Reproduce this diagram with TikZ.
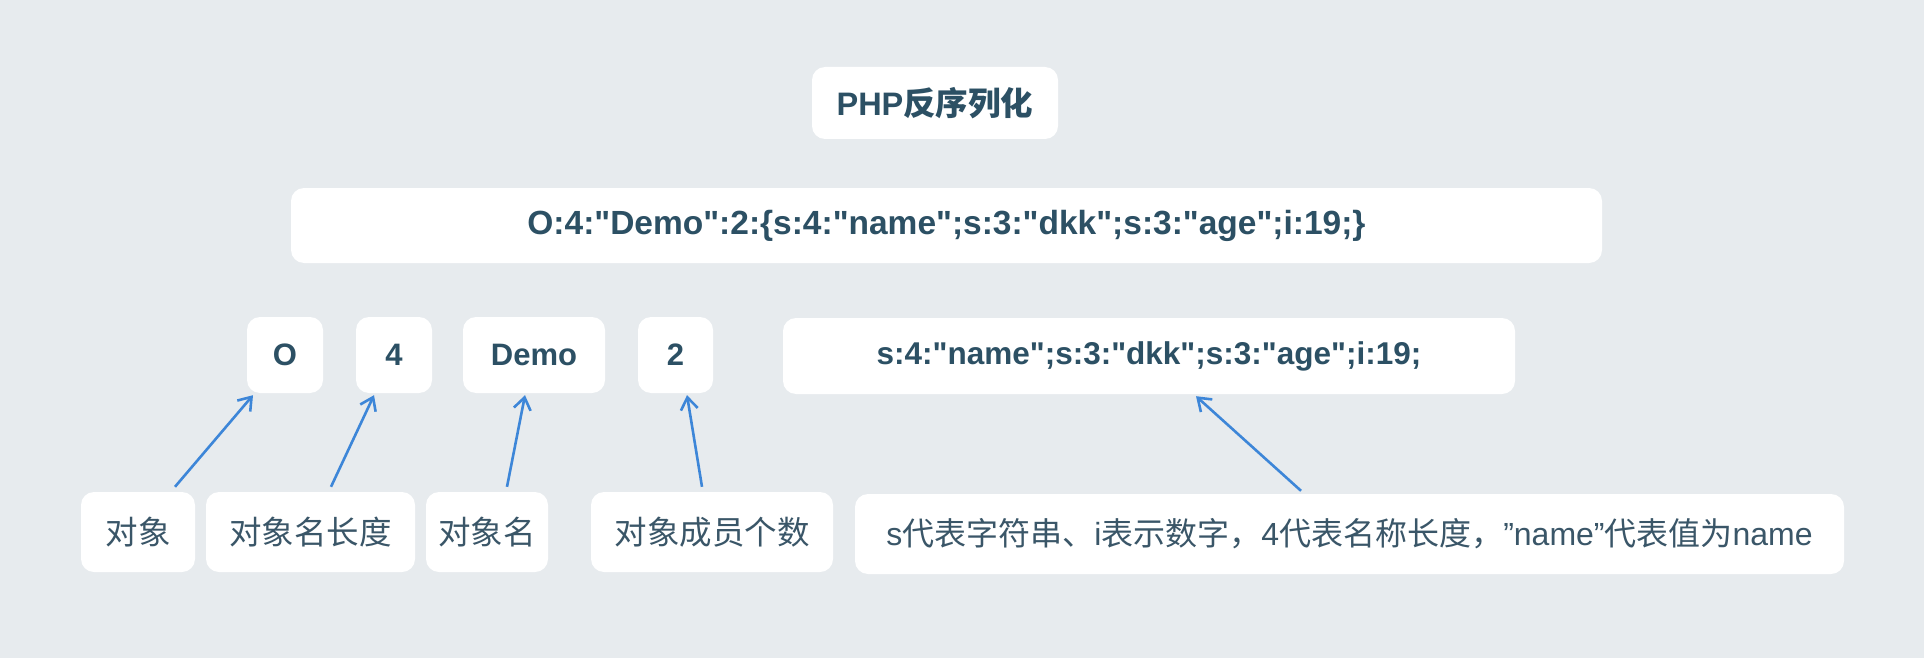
\documentclass[tikz,border=0pt]{standalone}
\usepackage{fontspec}
\setmainfont{Liberation Sans}[Ligatures=TeXOff]
\newfontfamily\cjk{Noto Sans CJK SC}
\usetikzlibrary{arrows.meta}
\definecolor{bgc}{HTML}{E7EBEE}
\definecolor{txt}{HTML}{2C5064}
\definecolor{txtl}{HTML}{3A5668}
\definecolor{arrc}{HTML}{3D86D8}
\tikzset{
  box/.style={fill=white, rounded corners=13pt, inner sep=0pt, text=txt, font=\fontsize{31}{36}\selectfont\bfseries},
  lbl/.style={fill=white, rounded corners=13pt, inner sep=0pt, text=txtl, font=\fontsize{32.5}{38}\selectfont},
  arr/.style={draw=arrc, line width=2.6pt, -{Straight Barb[length=12pt,width=17pt,line width=2.6pt]}}
}
\begin{document}
\begin{tikzpicture}[x=1pt,y=-1pt]
\fill[bgc] (0,0) rectangle (1924,658);
\useasboundingbox (0,0) rectangle (1924,658);
\node[box, minimum width=246pt, minimum height=72pt, font=\fontsize{32.5}{38}\selectfont\bfseries] (title) at (935,103) {PHP{\cjk 反序列化}};
\node[box, minimum width=1311pt, minimum height=75pt, font=\fontsize{33.5}{38}\selectfont\bfseries] (str) at (946.5,225.5) {O:4:"Demo":2:\{s:4:"name";s:3:"dkk";s:3:"age";i:19;\}};
\node[box, minimum width=76pt, minimum height=76pt] (o) at (285,355) {O};
\node[box, minimum width=76pt, minimum height=76pt] (four) at (394,355) {4};
\node[box, minimum width=142pt, minimum height=76pt] (demo) at (534,355) {Demo};
\node[box, minimum width=75pt, minimum height=76pt] (two) at (675.5,355) {2};
\node[box, minimum width=732pt, minimum height=76pt, font=\fontsize{31.5}{36}\selectfont\bfseries] (sub) at (1149,356) {s:4:"name";s:3:"dkk";s:3:"age";i:19;};
\node[lbl, minimum width=114pt, minimum height=80pt] (l1) at (138,532) {\cjk 对象};
\node[lbl, minimum width=209pt, minimum height=80pt] (l2) at (310.5,532) {\cjk 对象名长度};
\node[lbl, minimum width=122pt, minimum height=80pt] (l3) at (487,532) {\cjk 对象名};
\node[lbl, minimum width=242pt, minimum height=80pt] (l4) at (712,532) {\cjk 对象成员个数};
\node[lbl, minimum width=989pt, minimum height=80pt, font=\fontsize{32}{38}\selectfont] (l5) at (1349.5,534) {s{\cjk 代表字符串、}i{\cjk 表示数字，}4{\cjk 代表名称长度，}”name”{\cjk 代表值为}name};
\draw[arr] ([xshift=37pt,yshift=5pt]l1.north) -- ([xshift=-32pt,yshift=-2pt]o.south);
\draw[arr] ([xshift=20.5pt,yshift=5pt]l2.north) -- ([xshift=-20pt,yshift=-2pt]four.south);
\draw[arr] ([xshift=20pt,yshift=5pt]l3.north) -- ([xshift=-9pt,yshift=-2pt]demo.south);
\draw[arr] ([xshift=-10pt,yshift=5pt]l4.north) -- ([xshift=11.5pt,yshift=-2pt]two.south);
\draw[arr] ([xshift=-48.5pt,yshift=3pt]l5.north) -- ([xshift=47pt,yshift=-2pt]sub.south);
\end{tikzpicture}
\end{document}
